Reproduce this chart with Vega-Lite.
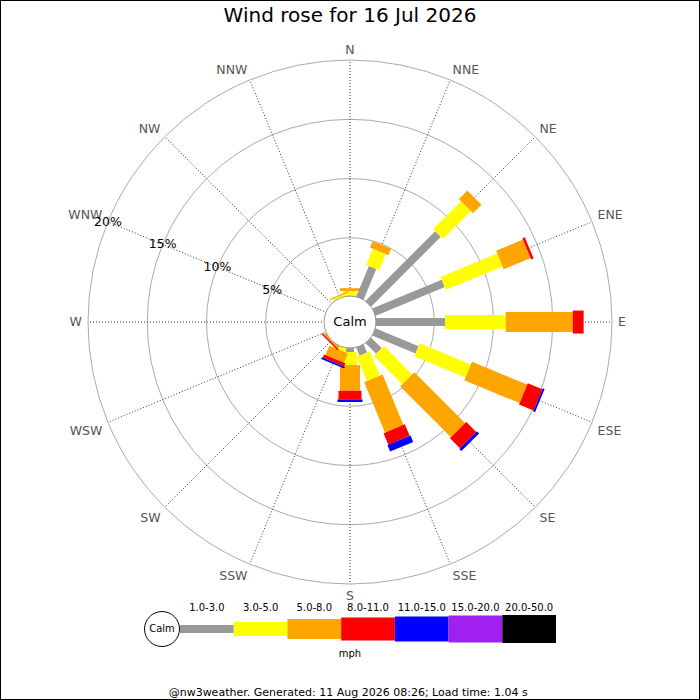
{
  "$schema": "https://vega.github.io/schema/vega-lite/v6.json",
  "width": 700,
  "height": 700,
  "padding": 0,
  "autosize": "none",
  "background": "white",
  "title": {
    "text": "Wind rose for 16 Jul 2026",
    "fontSize": 20,
    "fontWeight": "normal",
    "color": "black",
    "anchor": "middle",
    "offset": -26
  },
  "config": {
    "font": "DejaVu Sans",
    "view": {"stroke": "black", "strokeWidth": 2}
  },
  "datasets": {
    "dirs": [
      {"dir": "N", "deg": 0}, {"dir": "NNE", "deg": 22.5}, {"dir": "NE", "deg": 45}, {"dir": "ENE", "deg": 67.5},
      {"dir": "E", "deg": 90}, {"dir": "ESE", "deg": 112.5}, {"dir": "SE", "deg": 135}, {"dir": "SSE", "deg": 157.5},
      {"dir": "S", "deg": 180}, {"dir": "SSW", "deg": 202.5}, {"dir": "SW", "deg": 225}, {"dir": "WSW", "deg": 247.5},
      {"dir": "W", "deg": 270}, {"dir": "WNW", "deg": 292.5}, {"dir": "NW", "deg": 315}, {"dir": "NNW", "deg": 337.5}
    ],
    "rings": [{"pct": 5}, {"pct": 10}, {"pct": 15}, {"pct": 20}],
    "speeds": [
      {"speed": "1.0-3.0", "lo": 1}, {"speed": "3.0-5.0", "lo": 3}, {"speed": "5.0-8.0", "lo": 5},
      {"speed": "8.0-11.0", "lo": 8}, {"speed": "11.0-15.0", "lo": 11}, {"speed": "15.0-20.0", "lo": 15},
      {"speed": "20.0-50.0", "lo": 20}
    ],
    "rose": [
      {"dir": "N", "speed": "3.0-5.0", "lo": 3, "pct": 0.5},
      {"dir": "N", "speed": "5.0-8.0", "lo": 5, "pct": 0.25},
      {"dir": "NNE", "speed": "1.0-3.0", "lo": 1, "pct": 2.87},
      {"dir": "NNE", "speed": "3.0-5.0", "lo": 3, "pct": 1.47},
      {"dir": "NNE", "speed": "5.0-8.0", "lo": 5, "pct": 0.59},
      {"dir": "NE", "speed": "1.0-3.0", "lo": 1, "pct": 8.4},
      {"dir": "NE", "speed": "3.0-5.0", "lo": 3, "pct": 3.33},
      {"dir": "NE", "speed": "5.0-8.0", "lo": 5, "pct": 1.01},
      {"dir": "ENE", "speed": "1.0-3.0", "lo": 1, "pct": 6.41},
      {"dir": "ENE", "speed": "3.0-5.0", "lo": 3, "pct": 5.18},
      {"dir": "ENE", "speed": "5.0-8.0", "lo": 5, "pct": 2.45},
      {"dir": "ENE", "speed": "8.0-11.0", "lo": 8, "pct": 0.22},
      {"dir": "E", "speed": "1.0-3.0", "lo": 1, "pct": 5.91},
      {"dir": "E", "speed": "3.0-5.0", "lo": 3, "pct": 5.12},
      {"dir": "E", "speed": "5.0-8.0", "lo": 5, "pct": 5.66},
      {"dir": "E", "speed": "8.0-11.0", "lo": 8, "pct": 0.92},
      {"dir": "ESE", "speed": "1.0-3.0", "lo": 1, "pct": 4.02},
      {"dir": "ESE", "speed": "3.0-5.0", "lo": 3, "pct": 4.66},
      {"dir": "ESE", "speed": "5.0-8.0", "lo": 5, "pct": 5.05},
      {"dir": "ESE", "speed": "8.0-11.0", "lo": 8, "pct": 1.33},
      {"dir": "ESE", "speed": "11.0-15.0", "lo": 11, "pct": 0.17},
      {"dir": "SE", "speed": "1.0-3.0", "lo": 1, "pct": 1.35},
      {"dir": "SE", "speed": "3.0-5.0", "lo": 3, "pct": 3.38},
      {"dir": "SE", "speed": "5.0-8.0", "lo": 5, "pct": 6.07},
      {"dir": "SE", "speed": "8.0-11.0", "lo": 8, "pct": 1.19},
      {"dir": "SE", "speed": "11.0-15.0", "lo": 11, "pct": 0.25},
      {"dir": "SSE", "speed": "1.0-3.0", "lo": 1, "pct": 0.82},
      {"dir": "SSE", "speed": "3.0-5.0", "lo": 3, "pct": 2.22},
      {"dir": "SSE", "speed": "5.0-8.0", "lo": 5, "pct": 4.6},
      {"dir": "SSE", "speed": "8.0-11.0", "lo": 8, "pct": 1.05},
      {"dir": "SSE", "speed": "11.0-15.0", "lo": 11, "pct": 0.59},
      {"dir": "S", "speed": "1.0-3.0", "lo": 1, "pct": 0.42},
      {"dir": "S", "speed": "3.0-5.0", "lo": 3, "pct": 1.1},
      {"dir": "S", "speed": "5.0-8.0", "lo": 5, "pct": 2.17},
      {"dir": "S", "speed": "8.0-11.0", "lo": 8, "pct": 0.73},
      {"dir": "S", "speed": "11.0-15.0", "lo": 11, "pct": 0.22},
      {"dir": "SSW", "speed": "3.0-5.0", "lo": 3, "pct": 0.4},
      {"dir": "SSW", "speed": "5.0-8.0", "lo": 5, "pct": 0.85},
      {"dir": "SSW", "speed": "8.0-11.0", "lo": 8, "pct": 0.3},
      {"dir": "SSW", "speed": "11.0-15.0", "lo": 11, "pct": 0.15},
      {"dir": "SW", "speed": "5.0-8.0", "lo": 5, "pct": 0.2},
      {"dir": "SW", "speed": "8.0-11.0", "lo": 8, "pct": 0.12},
      {"dir": "NNW", "speed": "3.0-5.0", "lo": 3, "pct": 0.25},
      {"dir": "NNW", "speed": "5.0-8.0", "lo": 5, "pct": 0.1}
    ]
  },
  "layer": [
    {
      "layer": [
        {
          "data": {"name": "rings"},
          "transform": [{"calculate": "datum.pct + 2.11", "as": "u"}],
          "mark": {"type": "point", "shape": "circle", "filled": false, "stroke": "#aaaaaa", "strokeWidth": 1, "opacity": 1},
          "encoding": {
            "x": {"datum": 0, "type": "quantitative", "scale": {"domain": [-29.54, 29.54], "zero": false, "nice": false}, "axis": null},
            "y": {"datum": 0, "type": "quantitative", "scale": {"domain": [-31.9, 27.18], "zero": false, "nice": false}, "axis": null},
            "size": {
              "field": "u", "type": "quantitative", "legend": null,
              "scale": {"type": "pow", "exponent": 2, "domain": [0, 22.11], "range": [0, 274576], "zero": true, "nice": false}
            }
          }
        },
        {
          "data": {"name": "dirs"},
          "transform": [
            {"calculate": "2.11 * sin(datum.deg * PI / 180)", "as": "xa"},
            {"calculate": "2.11 * cos(datum.deg * PI / 180)", "as": "ya"},
            {"calculate": "22.11 * sin(datum.deg * PI / 180)", "as": "xb"},
            {"calculate": "22.11 * cos(datum.deg * PI / 180)", "as": "yb"}
          ],
          "mark": {"type": "rule", "stroke": "#333333", "strokeWidth": 1, "strokeDash": [1, 2]},
          "encoding": {
            "x": {"field": "xa", "type": "quantitative", "axis": null},
            "y": {"field": "ya", "type": "quantitative", "axis": null},
            "x2": {"field": "xb"},
            "y2": {"field": "yb"}
          }
        },
        {
          "data": {"name": "rose"},
          "transform": [
            {"lookup": "dir", "from": {"data": {"name": "dirs"}, "key": "dir", "fields": ["deg"]}},
            {"stack": "pct", "groupby": ["dir"], "sort": [{"field": "lo", "order": "ascending"}], "as": ["r0", "r1"]},
            {"calculate": "(datum.r0 + 2.11) * sin(datum.deg * PI / 180)", "as": "xa"},
            {"calculate": "(datum.r0 + 2.11) * cos(datum.deg * PI / 180)", "as": "ya"},
            {"calculate": "(datum.r1 + 2.11) * sin(datum.deg * PI / 180)", "as": "xb"},
            {"calculate": "(datum.r1 + 2.11) * cos(datum.deg * PI / 180)", "as": "yb"}
          ],
          "mark": {"type": "rule", "strokeCap": "butt"},
          "encoding": {
            "x": {"field": "xa", "type": "quantitative", "axis": null},
            "y": {"field": "ya", "type": "quantitative", "axis": null},
            "x2": {"field": "xb"},
            "y2": {"field": "yb"},
            "color": {
              "field": "speed", "type": "nominal", "legend": null,
              "scale": {
                "domain": ["1.0-3.0", "3.0-5.0", "5.0-8.0", "8.0-11.0", "11.0-15.0", "15.0-20.0", "20.0-50.0"],
                "range": ["#999999", "#ffff00", "#ffa500", "#ff0000", "#0000ff", "#a020f0", "#000000"]
              }
            },
            "strokeWidth": {
              "field": "lo", "type": "quantitative", "legend": null,
              "scale": {"domain": [1, 3, 5, 8, 11, 15, 20], "range": [8, 14, 20, 23, 25, 27, 28], "zero": false, "nice": false}
            }
          }
        },
        {
          "data": {"values": [{"label": "Calm"}]},
          "layer": [
            {
              "mark": {"type": "point", "shape": "circle", "filled": true, "fill": "white", "stroke": "#999999", "strokeWidth": 1, "opacity": 1},
              "encoding": {
                "x": {"datum": 0, "type": "quantitative", "axis": null},
                "y": {"datum": 0, "type": "quantitative", "axis": null},
                "size": {"datum": 2.19, "type": "quantitative", "legend": null}
              }
            },
            {
              "mark": {"type": "text", "fontSize": 13, "color": "black"},
              "encoding": {
                "x": {"datum": 0, "type": "quantitative", "axis": null},
                "y": {"datum": 0, "type": "quantitative", "axis": null},
                "text": {"field": "label"}
              }
            }
          ]
        },
        {
          "data": {"name": "dirs"},
          "transform": [
            {"calculate": "22.62 * sin(datum.deg * PI / 180)", "as": "lx"},
            {"calculate": "22.62 * cos(datum.deg * PI / 180)", "as": "ly"}
          ],
          "mark": {
            "type": "text", "fontSize": 12.5, "color": "#555555",
            "align": {"expr": "datum.lx > 2 ? 'left' : datum.lx < -2 ? 'right' : 'center'"},
            "baseline": {"expr": "datum.ly > 2 ? 'alphabetic' : datum.ly < -2 ? 'top' : 'middle'"}
          },
          "encoding": {
            "x": {"field": "lx", "type": "quantitative", "axis": null},
            "y": {"field": "ly", "type": "quantitative", "axis": null},
            "text": {"field": "dir"}
          }
        },
        {
          "data": {"name": "rings"},
          "transform": [
            {"calculate": "(datum.pct + 2.11) * sin(292.5 * PI / 180)", "as": "lx"},
            {"calculate": "(datum.pct + 2.11) * cos(292.5 * PI / 180)", "as": "ly"},
            {"calculate": "datum.pct + '%'", "as": "label"}
          ],
          "mark": {"type": "text", "fontSize": 12.5, "color": "black"},
          "encoding": {
            "x": {"field": "lx", "type": "quantitative", "axis": null},
            "y": {"field": "ly", "type": "quantitative", "axis": null},
            "text": {"field": "label"}
          }
        },
        {
          "data": {"values": [{"label": "mph"}]},
          "mark": {"type": "text", "fontSize": 10, "color": "black"},
          "encoding": {
            "x": {"datum": 0, "type": "quantitative", "axis": null},
            "y": {"datum": -28.02, "type": "quantitative", "axis": null},
            "text": {"field": "label"}
          }
        },
        {
          "data": {"values": [{"label": "@nw3weather. Generated: 11 Aug 2026 08:26; Load time: 1.04 s"}]},
          "mark": {"type": "text", "fontSize": 11, "color": "black"},
          "encoding": {
            "x": {"datum": -0.15, "type": "quantitative", "axis": null},
            "y": {"datum": -31.31, "type": "quantitative", "axis": null},
            "text": {"field": "label"}
          }
        }
      ]
    },
    {
      "layer": [
        {
          "data": {"name": "speeds"},
          "mark": {"type": "rule", "strokeCap": "butt"},
          "encoding": {
            "x": {
              "field": "speed", "type": "ordinal", "bandPosition": 0, "axis": null,
              "scale": {
                "type": "band",
                "domain": ["Calm", "1.0-3.0", "3.0-5.0", "5.0-8.0", "8.0-11.0", "11.0-15.0", "15.0-20.0", "20.0-50.0"],
                "range": [126.3, 556], "paddingInner": 0, "paddingOuter": 0
              }
            },
            "x2": {"field": "speed", "bandPosition": 1},
            "y": {"datum": -25.91, "type": "quantitative", "axis": null},
            "color": {"field": "speed", "type": "nominal", "legend": null},
            "strokeWidth": {"field": "lo", "type": "quantitative", "legend": null}
          }
        },
        {
          "data": {"name": "speeds"},
          "mark": {"type": "text", "fontSize": 10, "color": "black"},
          "encoding": {
            "x": {"field": "speed", "type": "ordinal", "axis": null},
            "y": {"datum": -24.11, "type": "quantitative", "axis": null},
            "text": {"field": "speed"}
          }
        },
        {
          "data": {"values": [{"label": "Calm"}]},
          "layer": [
            {
              "mark": {"type": "point", "shape": "circle", "size": 1225, "filled": false, "stroke": "black", "strokeWidth": 1, "opacity": 1},
              "encoding": {
                "x": {"field": "label", "type": "ordinal", "bandPosition": 0.665, "axis": null},
                "y": {"datum": -25.91, "type": "quantitative", "axis": null}
              }
            },
            {
              "mark": {"type": "text", "fontSize": 10, "color": "black"},
              "encoding": {
                "x": {"field": "label", "type": "ordinal", "bandPosition": 0.665, "axis": null},
                "y": {"datum": -25.91, "type": "quantitative", "axis": null},
                "text": {"field": "label"}
              }
            }
          ]
        }
      ]
    }
  ],
  "resolve": {"scale": {"x": "independent"}}
}
